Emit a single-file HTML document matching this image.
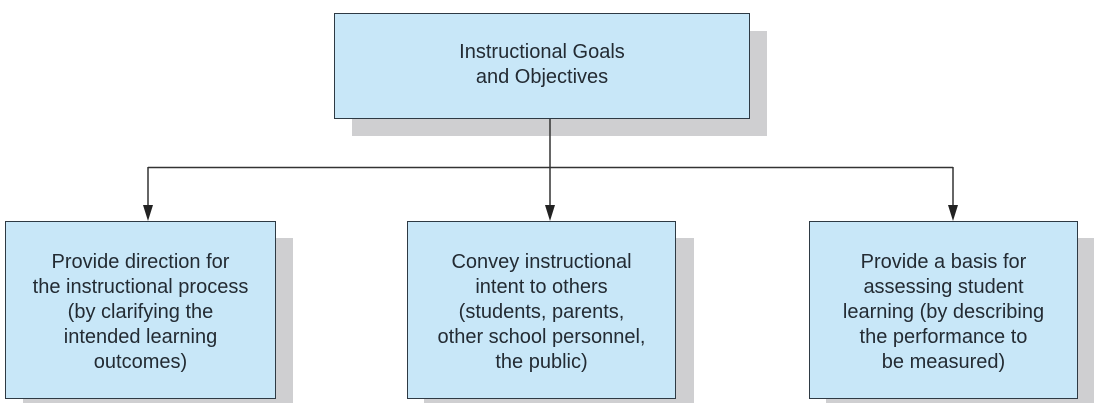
<!DOCTYPE html>
<html><head><style>
body{margin:0;width:1094px;height:403px;background:#fff;position:relative;overflow:hidden;font-family:"Liberation Sans",Arial,sans-serif;}
.sh{position:absolute;background:#cfcfd1;}
.bx{position:absolute;background:#c8e7f8;border:1.5px solid #2e3a44;box-sizing:border-box;display:flex;align-items:center;justify-content:center;text-align:center;color:#232b33;font-size:20px;line-height:25px;padding-top:4px;}
</style></head><body>
<div class="sh" style="left:352px;top:31px;width:415px;height:105px"></div>
<div class="bx" style="left:334px;top:13px;width:416px;height:106px;padding-top:0;padding-bottom:2px">Instructional Goals<br>and Objectives</div>

<div class="sh" style="left:23px;top:238px;width:270px;height:165px"></div>
<div class="sh" style="left:424px;top:238px;width:270px;height:165px"></div>
<div class="sh" style="left:826px;top:238px;width:268px;height:165px"></div>

<svg style="position:absolute;left:0;top:0" width="1094" height="403">
<g stroke="#333" stroke-width="1.5" fill="none">
<line x1="550" y1="119" x2="550" y2="212"/>
<line x1="148" y1="167.5" x2="953" y2="167.5"/>
<line x1="148" y1="167" x2="148" y2="212"/>
<line x1="953" y1="167" x2="953" y2="212"/>
</g>
<g fill="#222">
<polygon points="143,205 153,205 148,221"/>
<polygon points="545,205 555,205 550,221"/>
<polygon points="948,205 958,205 953,221"/>
</g>
</svg>

<div class="bx" style="left:5px;top:221px;width:271px;height:178px">Provide direction for<br>the instructional process<br>(by clarifying the<br>intended learning<br>outcomes)</div>
<div class="bx" style="left:407px;top:221px;width:269px;height:178px">Convey instructional<br>intent to others<br>(students, parents,<br>other school personnel,<br>the public)</div>
<div class="bx" style="left:809px;top:221px;width:269px;height:178px">Provide a basis for<br>assessing student<br>learning (by describing<br>the performance to<br>be measured)</div>
</body></html>
